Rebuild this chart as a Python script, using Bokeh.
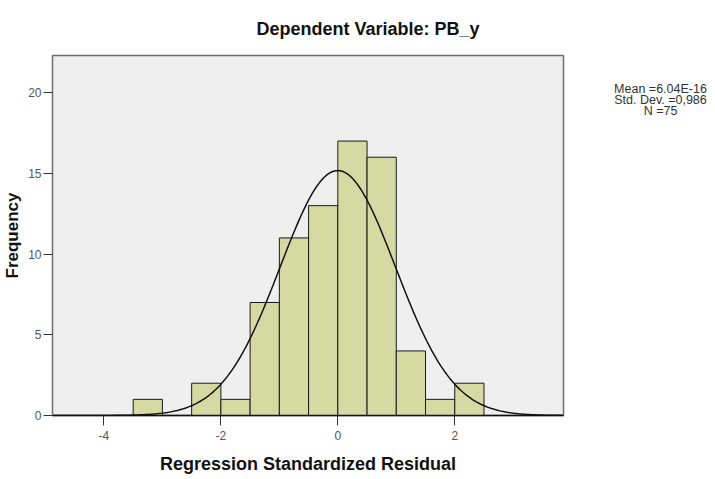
import numpy as np
from bokeh.plotting import figure
from bokeh.layouts import row
from bokeh.models import Range1d, FixedTicker, ColumnDataSource
from bokeh.core.properties import value
from bokeh.embed import file_html
from bokeh.resources import INLINE

# ---- data ----
bin_left = [-3.5, -3.0, -2.5, -2.0, -1.5, -1.0, -0.5, 0.0, 0.5, 1.0, 1.5, 2.0]
bin_right = [-3.0, -2.5, -2.0, -1.5, -1.0, -0.5, 0.0, 0.5, 1.0, 1.5, 2.0, 2.5]
counts = [1, 0, 2, 1, 7, 11, 13, 17, 16, 4, 1, 2]
x_ticks = [-4, -2, 0, 2]
y_ticks = [0, 5, 10, 15, 20]
stat_mean = 6.04e-16
stat_sd = 0.986
stat_n = 75
stats_lines = ["Mean =6.04E-16", "Std. Dev. =0,986", "N =75"]
title_text = "Dependent Variable: PB_y"
x_label = "Regression Standardized Residual"
y_label = "Frequency"

FONT = "Liberation Sans"
H = 476

p = figure(width=566, height=H, output_backend="svg", toolbar_location=None,
           x_range=Range1d(-4.88, 3.86), y_range=Range1d(0, 22.3),
           min_border_left=49, min_border_right=3, min_border_top=50,
           min_border_bottom=60, title=title_text)
p.background_fill_color = "#efefef"
p.border_fill_color = "white"
p.outline_line_color = "#6e6e6e"
p.outline_line_width = 1.5
p.xgrid.visible = False
p.ygrid.visible = False

p.title.align = "left"
p.title.offset = 204
p.title.standoff = 33
p.title.text_font = FONT
p.title.text_font_size = "18px"
p.title.text_font_style = "bold"
p.title.text_color = "#111111"

# bars
bars_l = [l for l, c in zip(bin_left, counts) if c > 0]
bars_r = [r for r, c in zip(bin_right, counts) if c > 0]
bars_c = [c for c in counts if c > 0]
p.quad(left=bars_l, right=bars_r, bottom=0, top=bars_c,
       fill_color="#d5d9a2", line_color="#1a1a1a", line_width=1)

# fitted normal curve from the reported statistics
bw = bin_right[0] - bin_left[0]
xs = np.linspace(-4.88, 3.86, 300)
ys = stat_n * bw / (stat_sd * np.sqrt(2 * np.pi)) * np.exp(-0.5 * ((xs - stat_mean) / stat_sd) ** 2)
p.line(xs, ys, line_color="#111111", line_width=1.5)

# axes
p.xaxis.ticker = FixedTicker(ticks=x_ticks)
p.yaxis.ticker = FixedTicker(ticks=y_ticks)
p.xaxis.major_label_overrides = {t: str(t) for t in x_ticks}
p.xaxis.minor_tick_line_color = None
p.yaxis.minor_tick_line_color = None
p.xaxis.major_tick_in = 0
p.xaxis.major_tick_out = 10
p.yaxis.major_tick_in = 0
p.yaxis.major_tick_out = 9
p.xaxis.major_label_standoff = 5
p.yaxis.major_label_standoff = 2
for ax in (p.xaxis, p.yaxis):
    ax.major_label_text_font = FONT
    ax.major_label_text_font_size = "12px"
    ax.major_label_text_color = "#555555"
    ax.major_tick_line_color = "#333333"
    ax.axis_label_text_font = FONT
    ax.axis_label_text_font_style = "bold"
    ax.axis_label_text_color = "#111111"
p.xaxis.axis_line_color = "#111111"
p.xaxis.axis_line_width = 1.5
p.yaxis.axis_line_color = "#6e6e6e"
p.xaxis.axis_label = x_label
p.yaxis.axis_label = y_label
p.xaxis.axis_label_text_font_size = "18px"
p.yaxis.axis_label_text_font_size = "17px"
p.xaxis.axis_label_standoff = 11
p.yaxis.axis_label_standoff = 3

# side panel with the statistics text (its frame is aligned with the main frame)
s = figure(width=141, height=H, output_backend="svg", toolbar_location=None,
           x_range=Range1d(0, 141), y_range=Range1d(416, 50),
           min_border=0, x_axis_type=None, y_axis_type=None)
s.outline_line_color = None
s.background_fill_color = "white"
s.xgrid.visible = False
s.ygrid.visible = False
src = ColumnDataSource(dict(x=[94] * len(stats_lines),
                            y=[84 + 11 * i for i in range(len(stats_lines))],
                            t=stats_lines))
s.text(x="x", y="y", text="t", source=src, text_align="center",
       text_baseline="middle", text_font=value(FONT), text_font_size="12.5px",
       text_color="#333333")

open("out.html", "w").write(file_html(row(p, s, spacing=0), INLINE))
